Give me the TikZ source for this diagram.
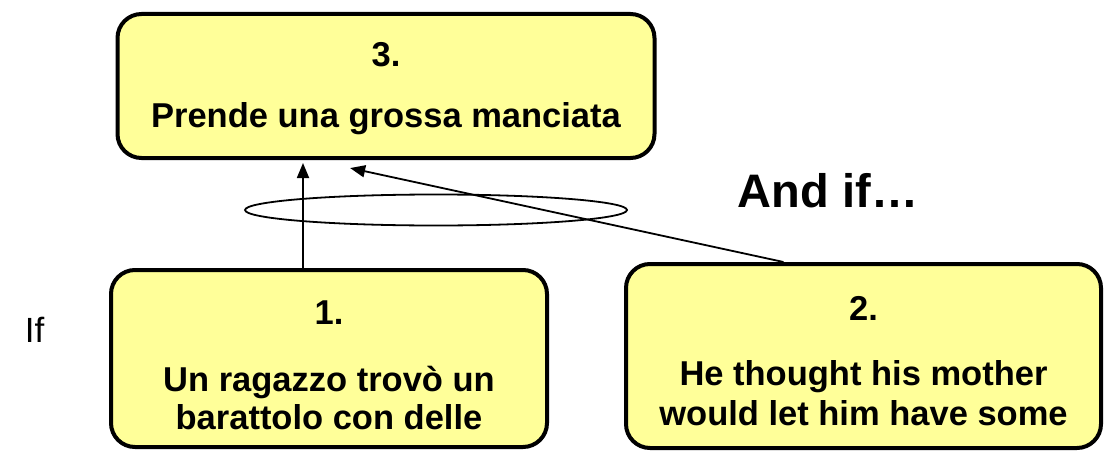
\documentclass[tikz,border=0pt]{standalone}
\usepackage{fontspec}
\setmainfont{Liberation Sans}
\usetikzlibrary{arrows.meta,shapes.geometric}
\definecolor{cardyellow}{RGB}{255,255,153}

\begin{document}
\begin{tikzpicture}[x=1pt,y=-1pt,>={Triangle[length=15pt,width=12pt]},
                    line width=1.8pt]
  \tikzstyle{event}=[rectangle,rounded corners=24pt,fill=cardyellow,draw=black,
                     line width=4pt,align=center,
                     font=\bfseries\fontsize{34.5}{38}\selectfont]
  \useasboundingbox (0,0) rectangle (1105,452);

  \node[event,minimum width=537pt,minimum height=144pt] (C) at (386,86)
        {\rule{0pt}{29pt}3.\\[23pt]Prende una grossa manciata};
  \node[event,minimum width=436pt,minimum height=177pt] (A) at (329,358.5)
        {\rule{0pt}{38pt}1.\\[29pt]Un ragazzo trovò un\\barattolo con delle};
  \node[event,minimum width=475pt,minimum height=184pt] (B) at (863.5,356)
        {\rule{0pt}{35pt}2.\\[27pt]He thought his mother\\[2pt]would let him have some};

  \node[ellipse,draw,minimum width=382pt,minimum height=31pt] (joint) at (436,210) {};

  \node[anchor=base west,inner sep=0pt,font=\fontsize{35}{40}\selectfont] (if) at (24,342) {If};
  \node[anchor=base west,inner sep=0pt,font=\bfseries\fontsize{47}{54}\selectfont] (andif) at (737,207) {And if…};

  \draw[->,shorten >=3pt] ([xshift=-26pt]A.north) -- ([xshift=-26pt]A.north |- C.south);
  \draw[->,shorten >=38pt] ([xshift=-80pt]B.north) -- ([xshift=-73pt]C.south);
\end{tikzpicture}
\end{document}
